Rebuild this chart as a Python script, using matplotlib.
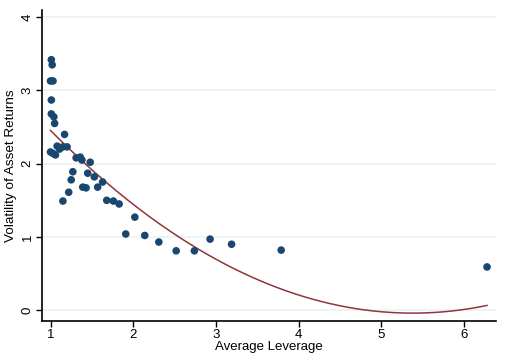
import numpy as np
import matplotlib
matplotlib.use("Agg")
import matplotlib.pyplot as plt

plt.rcParams['font.family'] = ['Liberation Sans', 'DejaVu Sans']

# scatter points
leverage = [1.01, 1.02, 1.00, 1.03, 1.01, 1.01, 1.04, 1.05, 1.00, 1.03,
            1.06, 1.08, 1.11, 1.15, 1.17, 1.20, 1.31, 1.36, 1.38, 1.48,
            1.27, 1.25, 1.22, 1.45, 1.53, 1.39, 1.43, 1.57, 1.63, 1.15,
            1.68, 1.76, 1.83, 2.02, 1.91, 2.14, 2.31, 2.52, 2.74, 2.93,
            3.19, 3.79, 6.28]
volatility = [3.42, 3.35, 3.13, 3.13, 2.87, 2.68, 2.64, 2.55, 2.16, 2.14,
              2.12, 2.24, 2.20, 2.23, 2.40, 2.23, 2.08, 2.09, 2.05, 2.02,
              1.89, 1.78, 1.61, 1.87, 1.82, 1.68, 1.67, 1.68, 1.75, 1.49,
              1.50, 1.49, 1.45, 1.27, 1.04, 1.02, 0.93, 0.81, 0.81, 0.97,
              0.90, 0.82, 0.59]

# quadratic fit as drawn in the picture (a, b, c)
fit_coef = [0.130, -1.399, 3.723]

xticks = [1, 2, 3, 4, 5, 6]
yticks = [0, 1, 2, 3, 4]

fig = plt.figure(figsize=(5.06, 3.6), dpi=100)
ax = fig.add_axes([0.083, 0.108, 0.897, 0.864])

xs = np.linspace(min(leverage), max(leverage), 200)
ax.plot(xs, np.polyval(fit_coef, xs), color='#90353b', lw=1.1, zorder=2)

ax.scatter(leverage, volatility, s=30, color='#1a476f', edgecolors='none', zorder=3)

ax.set_xlim(0.897, 6.387)
ax.set_ylim(-0.15, 4.098)
ax.set_xticks(xticks)
ax.set_yticks(yticks)
ax.grid(axis='y', color='#eaf2f3', lw=1.2, zorder=0)
ax.set_axisbelow(True)

for s in ['top', 'right']:
    ax.spines[s].set_visible(False)
ax.spines['left'].set_linewidth(1.2)
ax.spines['bottom'].set_linewidth(1.2)
ax.tick_params(direction='out', length=4, width=1, labelsize=9.5, pad=2)
plt.setp(ax.get_yticklabels(), rotation=90, va='center')

ax.set_xlabel('Average Leverage', fontsize=9.5)
ax.set_ylabel('Volatility of Asset Returns', fontsize=9.7)
ax.xaxis.set_label_coords(0.5, -0.065)
ax.yaxis.set_label_coords(-0.055, 0.5)

fig.savefig('out.png', dpi=100)
